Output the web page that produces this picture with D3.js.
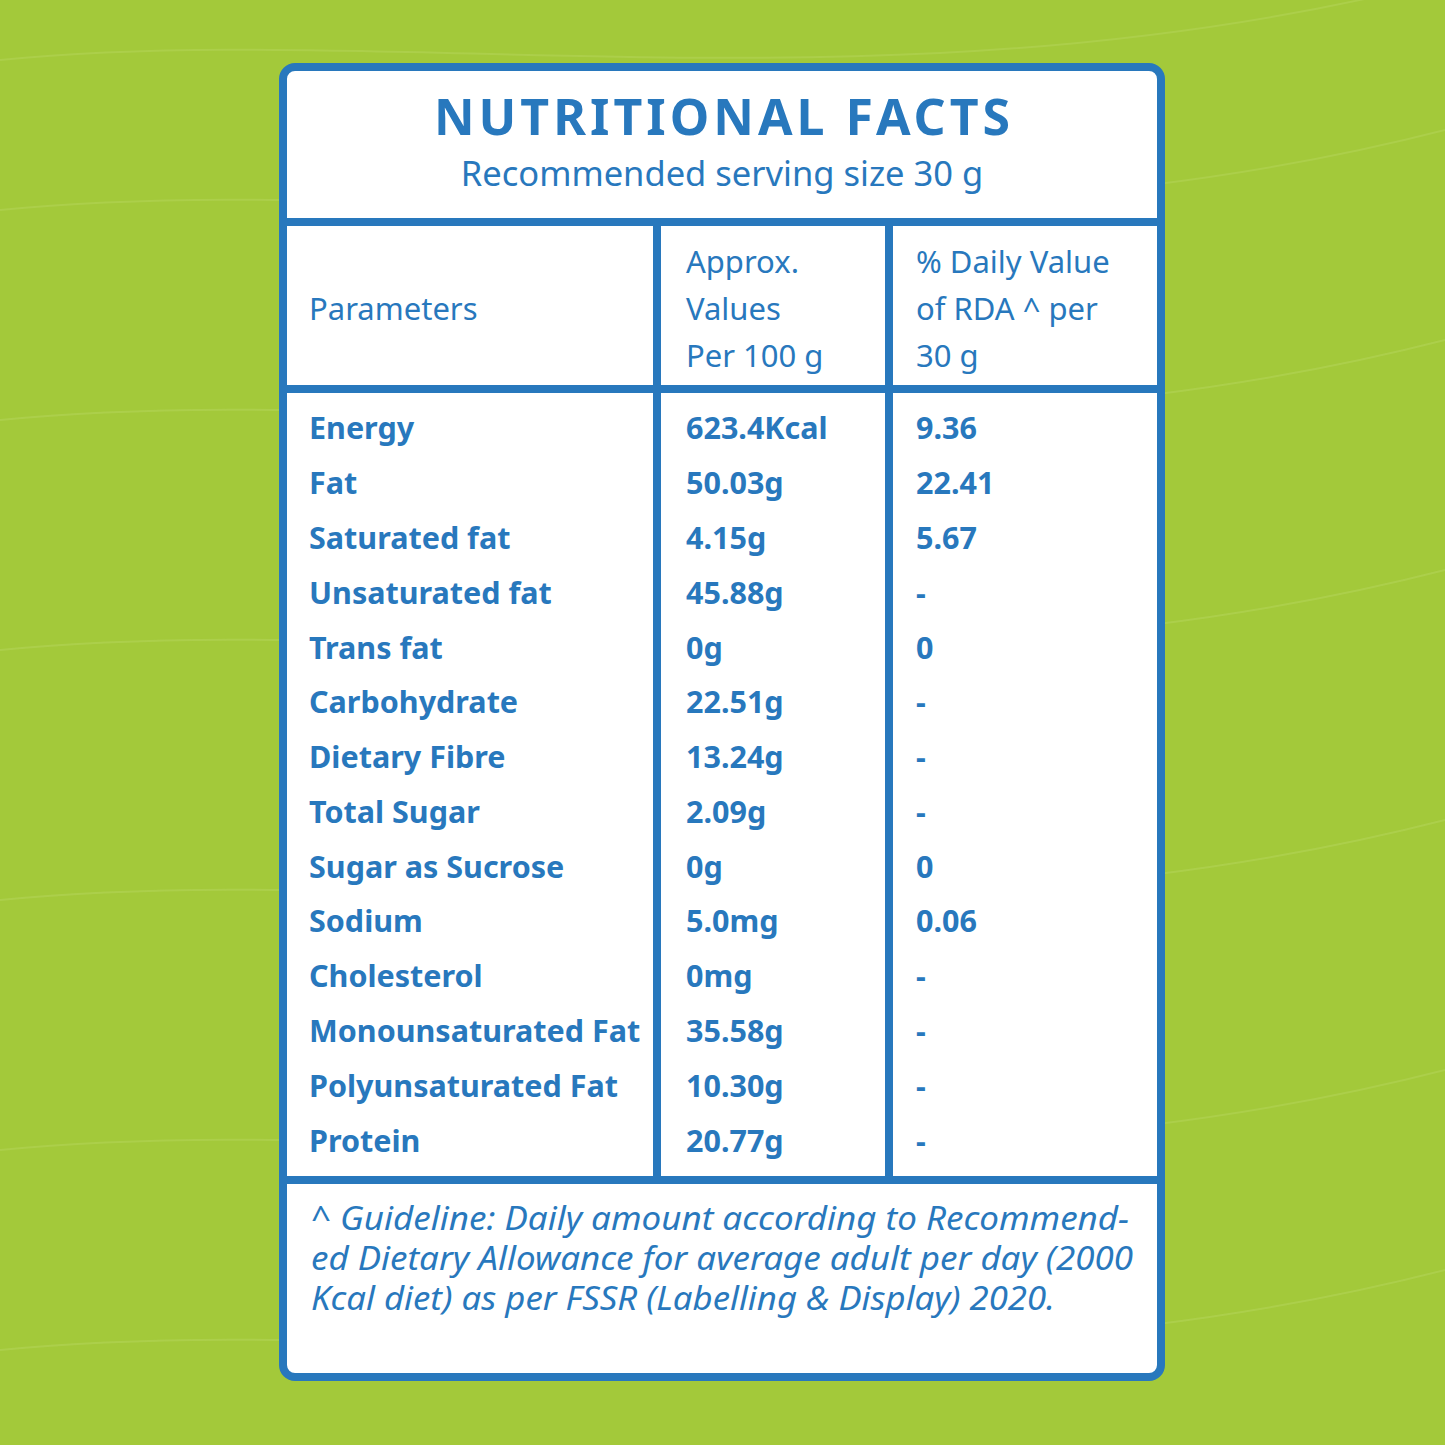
<!DOCTYPE html>
<html><head><meta charset="utf-8">
<script src="https://cdn.jsdelivr.net/npm/d3@7"></script>
<style>body{margin:0;background:#a3c93a}</style></head>
<body><svg id="c" width="1445" height="1445"></svg>
<script>
const parameters=["Energy","Fat","Saturated fat","Unsaturated fat","Trans fat","Carbohydrate","Dietary Fibre","Total Sugar","Sugar as Sucrose","Sodium","Cholesterol","Monounsaturated Fat","Polyunsaturated Fat","Protein"];
const values=["623.4Kcal","50.03g","4.15g","45.88g","0g","22.51g","13.24g","2.09g","0g","5.0mg","0mg","35.58g","10.30g","20.77g"];
const dailyValues=["9.36","22.41","5.67","-","0","-","-","-","0","0.06","-","-","-","-"];
const headers=[["Parameters"],["Approx.","Values","Per 100 g"],["% Daily Value","of RDA ^ per","30 g"]];
const footnote=["^ Guideline: Daily amount according to Recommend-","ed Dietary Allowance for average adult per day (2000","Kcal diet) as per FSSR (Labelling & Display) 2020."];
const blue="#2878bd",font="'Noto Sans', sans-serif";
const svg=d3.select("#c");
svg.append("rect").attr("width",1445).attr("height",1445).attr("fill","#a3c93a");
const wg=svg.append("g").attr("fill","none").attr("stroke","#b2d356").attr("stroke-width",2).attr("opacity",0.6);
[60,210,420,650,900,1150,1350].forEach(y=>wg.append("path").attr("d",`M0,${y} C400,${y-40} 900,${y+60} 1445,${y-80}`));
svg.append("rect").attr("x",283).attr("y",67).attr("width",878).attr("height",1310).attr("rx",12).attr("fill","#fff").attr("stroke",blue).attr("stroke-width",8);
const line=(x1,y1,x2,y2)=>svg.append("line").attr("x1",x1).attr("y1",y1).attr("x2",x2).attr("y2",y2).attr("stroke",blue).attr("stroke-width",8);
line(283,222,1161,222);line(283,389,1161,389);line(283,1180,1161,1180);
line(657,222,657,1180);line(889,222,889,1180);
const t=(x,y,s,sz,w,anchor,style)=>svg.append("text").attr("x",x).attr("y",y).text(s).attr("fill",blue).attr("font-family",font).attr("font-size",sz).attr("font-weight",w||"normal").attr("text-anchor",anchor||"start").attr("font-style",style||"normal");
t(724,135,"NUTRITIONAL FACTS",50,"bold","middle").attr("letter-spacing",4);
t(722,186,"Recommended serving size 30 g",34.5,"normal","middle");
const cx=[309,686,916];
t(cx[0],320,headers[0][0],31);
headers[1].forEach((s,i)=>t(cx[1],273+i*47,s,31));
headers[2].forEach((s,i)=>t(cx[2],273+i*47,s,31));
const y=d3.scaleBand().domain(d3.range(parameters.length)).range([401,1168]);
parameters.forEach((p,i)=>{const yy=y(i)+y.bandwidth()/2+11;
 t(cx[0],yy,p,30.5,"bold");t(cx[1],yy,values[i],30.5,"bold");t(cx[2],yy,dailyValues[i],30.5,"bold");});
const fl=[818,822,744];
footnote.forEach((s,i)=>t(311,1230+i*40,s,32,"normal","start","italic").attr("textLength",fl[i]).attr("lengthAdjust","spacingAndGlyphs"));
</script></body></html>
